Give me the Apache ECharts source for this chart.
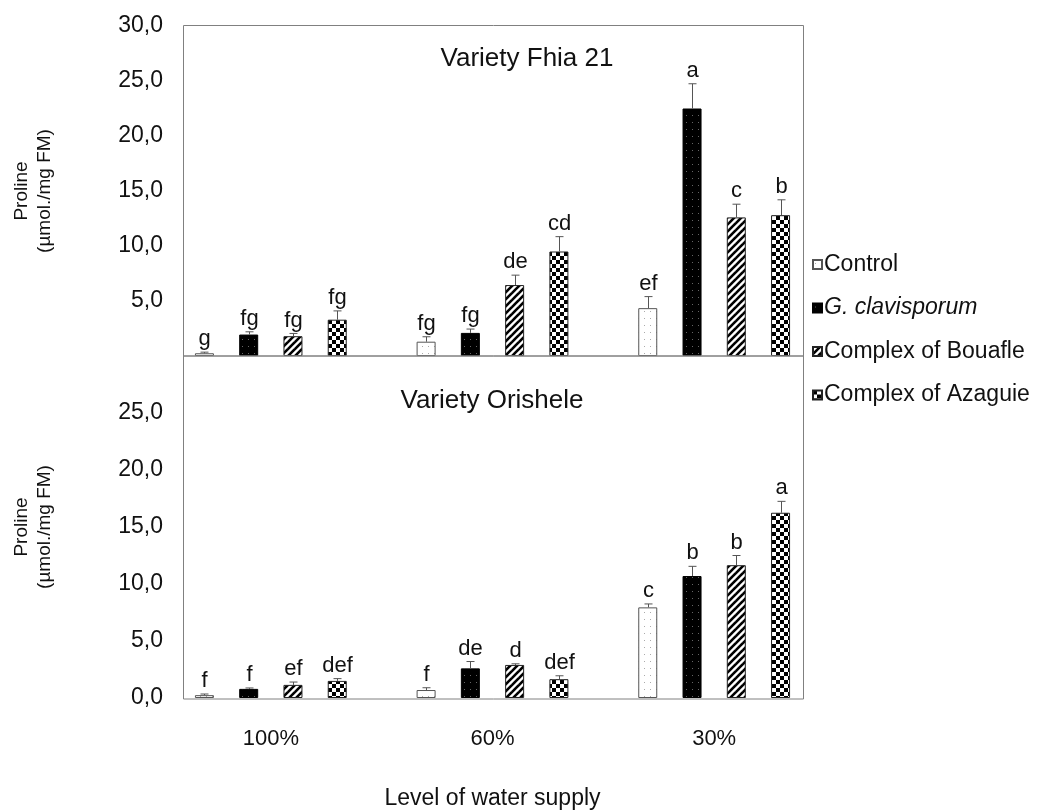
<!DOCTYPE html>
<html><head><meta charset="utf-8">
<script src="https://cdn.jsdelivr.net/npm/echarts@6/dist/echarts.min.js"></script>
<style>html,body{margin:0;padding:0;background:#fff}#c{width:1048px;height:811px}</style>
</head><body><div id="c"></div>
<script>
// ---------- DATA ----------
const categories = ['100%', '60%', '30%'];
const seriesNames = ['Control', 'G. clavisporum', 'Complex of Bouafle', 'Complex of Azaguie'];
const yTicksTop = [5, 10, 15, 20, 25, 30];
const yTicksBottom = [0, 5, 10, 15, 20, 25];

// Variety Fhia 21 (top panel)
const fhiaControl = [0.25, 1.3, 4.35];
const fhiaGclav   = [1.95, 2.1, 22.5];
const fhiaBouafle = [1.8, 6.45, 12.6];
const fhiaAzaguie = [3.3, 9.5, 12.8];
const fhiaControlErr = [0.1, 0.45, 1.05];
const fhiaGclavErr   = [0.25, 0.35, 2.25];
const fhiaBouafleErr = [0.25, 0.9, 1.2];
const fhiaAzaguieErr = [0.8, 1.35, 1.4];
const fhiaControlLet = ['g', 'fg', 'ef'];
const fhiaGclavLet   = ['fg', 'fg', 'a'];
const fhiaBouafleLet = ['fg', 'de', 'c'];
const fhiaAzaguieLet = ['fg', 'cd', 'b'];

// Variety Orishele (bottom panel)
const oriControl = [0.25, 0.7, 7.95];
const oriGclav   = [0.8, 2.6, 10.7];
const oriBouafle = [1.15, 2.9, 11.65];
const oriAzaguie = [1.5, 1.65, 16.25];
const oriControlErr = [0.1, 0.2, 0.3];
const oriGclavErr   = [0.08, 0.6, 0.85];
const oriBouafleErr = [0.25, 0.1, 0.85];
const oriAzaguieErr = [0.2, 0.3, 1.0];
const oriControlLet = ['f', 'f', 'c'];
const oriGclavLet   = ['f', 'de', 'b'];
const oriBouafleLet = ['ef', 'd', 'b'];
const oriAzaguieLet = ['def', 'def', 'a'];

// ---------- STYLE ----------
const FONT = '"Liberation Sans", Arial, sans-serif';
const BAR_W = 19, BAR_GAP = 1.33;

function pattern(kind) {
  const c = document.createElement('canvas');
  const ctx = c.getContext('2d');
  if (kind === 'dots') {
    c.width = 6; c.height = 7;
    ctx.fillStyle = '#fff'; ctx.fillRect(0, 0, 6, 7);
    ctx.fillStyle = '#aaa'; ctx.fillRect(2, 3, 1, 1);
  } else if (kind === 'black') {
    c.width = 6; c.height = 7;
    ctx.fillStyle = '#000'; ctx.fillRect(0, 0, 6, 7);
    ctx.fillStyle = '#666'; ctx.fillRect(2, 3, 1, 1);
  } else if (kind === 'hatch') {
    const P = 7;
    c.width = P; c.height = P;
    ctx.fillStyle = '#fff'; ctx.fillRect(0, 0, P, P);
    ctx.strokeStyle = '#000'; ctx.lineWidth = 2.6;
    [0, 1, 2].forEach(function (k) {
      ctx.beginPath(); ctx.moveTo(-P, k * P + P); ctx.lineTo(k * P + P, -P); ctx.stroke();
    });
  } else {
    c.width = 8; c.height = 8;
    ctx.fillStyle = '#fff'; ctx.fillRect(0, 0, 8, 8);
    ctx.fillStyle = '#000'; ctx.fillRect(0, 0, 4, 4); ctx.fillRect(4, 4, 4, 4);
  }
  return { image: c, repeat: 'repeat' };
}
const fills = [pattern('dots'), pattern('black'), pattern('hatch'), pattern('check')];
const borders = ['#555', '#000', '#222', '#222'];

const topVals = [fhiaControl, fhiaGclav, fhiaBouafle, fhiaAzaguie];
const topErrs = [fhiaControlErr, fhiaGclavErr, fhiaBouafleErr, fhiaAzaguieErr];
const topLets = [fhiaControlLet, fhiaGclavLet, fhiaBouafleLet, fhiaAzaguieLet];
const botVals = [oriControl, oriGclav, oriBouafle, oriAzaguie];
const botErrs = [oriControlErr, oriGclavErr, oriBouafleErr, oriAzaguieErr];
const botLets = [oriControlLet, oriGclavLet, oriBouafleLet, oriAzaguieLet];

function fmt(v) { return v.toFixed(1).replace('.', ','); }

function errData(vals, errs) {
  const d = [];
  for (let s = 0; s < vals.length; s++)
    for (let c = 0; c < categories.length; c++) d.push([c, s, vals[s][c], errs[s][c]]);
  return d;
}
function errRender(lets) {
  return function (params, api) {
    const cat = api.value(0), s = api.value(1), v = api.value(2), e = api.value(3);
    const pitch = BAR_W * (1 + BAR_GAP);
    const off = (s - 1.5) * pitch;
    const p0 = api.coord([cat, v]);
    const p1 = api.coord([cat, v + e]);
    const x = Math.round(p0[0] + off) + 0.5;
    const children = [
      { type: 'line', shape: { x1: x, y1: p0[1], x2: x, y2: p1[1] }, style: { stroke: '#555', lineWidth: 1 } },
      { type: 'line', shape: { x1: x - 4, y1: p1[1], x2: x + 4, y2: p1[1] }, style: { stroke: '#555', lineWidth: 1 } },
      { type: 'text', style: { text: lets[s][cat], x: x, y: p1[1] - 2, align: 'center', verticalAlign: 'bottom',
          fontSize: 22, fontFamily: FONT, fill: '#111' } }
    ];
    return { type: 'group', children: children };
  };
}

const series = [];
[topVals, botVals].forEach(function (vals, g) {
  vals.forEach(function (arr, s) {
    series.push({
      name: seriesNames[s], type: 'bar', xAxisIndex: g, yAxisIndex: g,
      data: arr, barWidth: BAR_W, barGap: (BAR_GAP * 100) + '%',
      itemStyle: { color: fills[s], borderColor: borders[s], borderWidth: 1 },
      emphasis: { disabled: true }
    });
  });
});
series.push({ name: 'errTop', type: 'custom', xAxisIndex: 0, yAxisIndex: 0, z: 5,
  encode: { x: 0, y: 2 }, data: errData(topVals, topErrs), renderItem: errRender(topLets) });
series.push({ name: 'errBot', type: 'custom', xAxisIndex: 1, yAxisIndex: 1, z: 5,
  encode: { x: 0, y: 2 }, data: errData(botVals, botErrs), renderItem: errRender(botLets) });

const yName = 'Proline\n(µmol./mg FM)';
const yAxisCommon = {
  type: 'value', min: 0, max: 30, interval: 5,
  axisLine: { show: false }, axisTick: { show: false }, splitLine: { show: false },
  name: yName, nameLocation: 'middle', nameRotate: 90, nameGap: 104,
  nameTextStyle: { fontSize: 19, fontFamily: FONT, color: '#111', lineHeight: 23, align: 'center' }
};

const option = {
  animation: false,
  backgroundColor: '#fff',
  title: [
    { text: 'Variety Fhia 21', left: 522, top: 41, textAlign: 'center',
      textStyle: { fontSize: 26, fontWeight: 'normal', fontFamily: FONT, color: '#111' } },
    { text: 'Variety Orishele', left: 487, top: 383, textAlign: 'center',
      textStyle: { fontSize: 26, fontWeight: 'normal', fontFamily: FONT, color: '#111' } }
  ],
  legend: {
    data: seriesNames, orient: 'vertical', left: 807, top: 247,
    itemWidth: 9, itemHeight: 9, itemGap: 18.5, icon: 'rect',
    formatter: function (n) { return n === 'G. clavisporum' ? '{i|' + n + '}' : n; },
    textStyle: { fontSize: 23, fontFamily: FONT, color: '#111', lineHeight: 25, padding: [0, 0, 0, -3],
      rich: { i: { fontStyle: 'italic', fontSize: 23, fontFamily: FONT, color: '#111' } } },
    selectedMode: false
  },
  grid: [
    { left: 160, right: 223, top: 26, height: 330 },
    { left: 160, right: 223, top: 356, height: 343 }
  ],
  xAxis: [
    { type: 'category', gridIndex: 0, data: categories, axisLine: { show: false }, axisTick: { show: false },
      axisLabel: { show: false } },
    { type: 'category', gridIndex: 1, data: categories, axisLine: { show: false }, axisTick: { show: false },
      axisLabel: { fontSize: 22, fontFamily: FONT, color: '#111', margin: 30 },
      name: 'Level of water supply', nameLocation: 'middle', nameGap: 89,
      nameTextStyle: { fontSize: 23, fontFamily: FONT, color: '#111' } }
  ],
  yAxis: [
    Object.assign({}, yAxisCommon, { gridIndex: 0,
      axisLabel: { fontSize: 23, fontFamily: FONT, color: '#111', margin: -3,
        formatter: function (v) { return yTicksTop.indexOf(v) >= 0 ? fmt(v) : ''; } } }),
    Object.assign({}, yAxisCommon, { gridIndex: 1,
      axisLabel: { fontSize: 23, fontFamily: FONT, color: '#111', margin: -3,
        formatter: function (v) { return yTicksBottom.indexOf(v) >= 0 ? fmt(v) : ''; } } })
  ],
  graphic: [
    { type: 'rect', silent: true, z: 10, shape: { x: 183.5, y: 25.5, width: 620, height: 330.5 },
      style: { fill: null, stroke: '#808080', lineWidth: 1 } },
    { type: 'rect', silent: true, z: 10, shape: { x: 183.5, y: 356, width: 620, height: 343 },
      style: { fill: null, stroke: '#808080', lineWidth: 1 } }
  ],
  series: series
};

const chart = echarts.init(document.getElementById('c'), null, { renderer: 'canvas' });
chart.setOption(option);
</script>
</body></html>
